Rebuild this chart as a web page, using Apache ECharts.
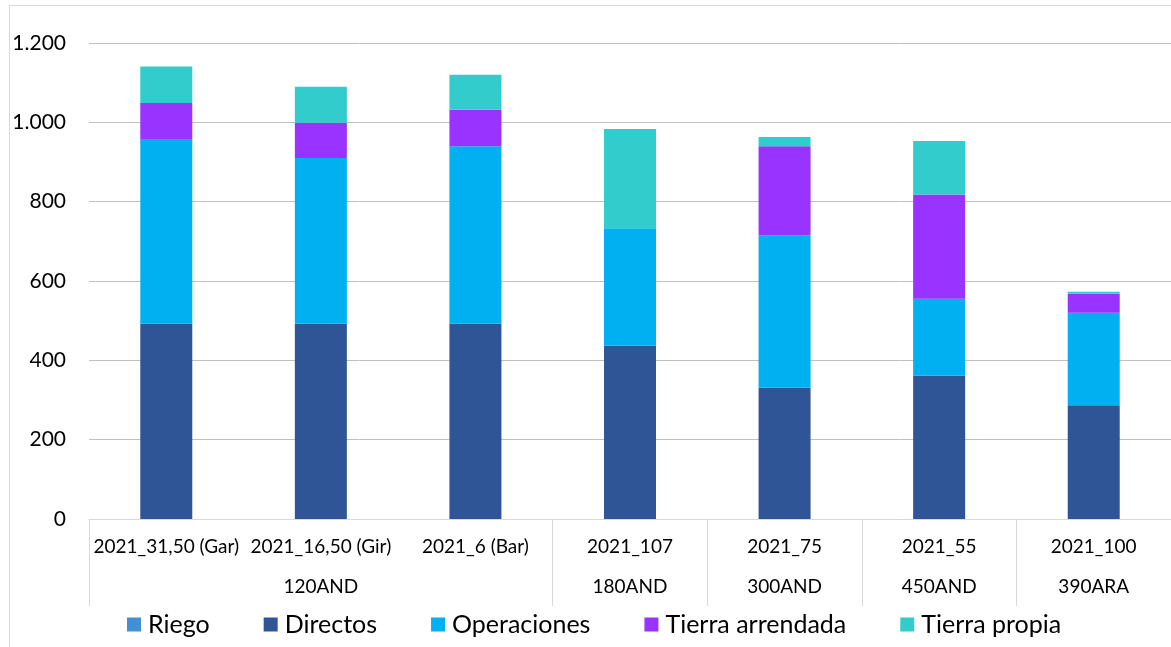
<!DOCTYPE html>
<html>
<head>
<meta charset="utf-8">
<script src="https://cdn.jsdelivr.net/npm/echarts@6/dist/echarts.min.js"></script>
<style>
  html, body { margin: 0; padding: 0; overflow: hidden; background: #fff; }
  #frame { position: absolute; left: 9px; top: 5px; width: 1200px; height: 700px; border: 1px solid #d9d9d9; }
  #chart { position: absolute; left: 0; top: 0; width: 1171px; height: 647px; }
</style>
</head>
<body>
<div id="frame"></div>
<div id="chart"></div>
<script>
// categorías (nivel 1) y grupos (nivel 2)
const categorias = ['2021_31,50 (Gar)', '2021_16,50 (Gir)', '2021_6 (Bar)', '2021_107', '2021_75', '2021_55', '2021_100']
const grupos = ['120AND', '120AND', '120AND', '180AND', '300AND', '450AND', '390ARA']

// series apiladas
const riego = [0, 0, 0, 0, 0, 0, 0]
const directos = [492, 492, 492, 437, 331, 361, 287]
const operaciones = [464, 418, 448, 296, 384, 194, 233]
const tierraArrendada = [93, 89, 92, 0, 225, 263, 48]
const tierraPropia = [92, 91, 88, 250, 23, 135, 5]

const yTicks = [0, 200, 400, 600, 800, 1000, 1200]

const fuente = 'Lato, "Open Sans", sans-serif'

// etiqueta de grupo solo en el centro de su tramo
const grupoLabel = (value, index) => {
  let first = index
  let last = index
  while (first > 0 && grupos[first - 1] === grupos[index]) first--
  while (last < grupos.length - 1 && grupos[last + 1] === grupos[index]) last++
  return index === Math.floor((first + last) / 2) ? grupos[index] : ''
}

// separador al inicio de cada grupo
const inicioGrupo = (index) => index === 0 || grupos[index - 1] !== grupos[index]

const chart = echarts.init(document.getElementById('chart'))

const serie = (name, data, color) => ({
  name,
  type: 'bar',
  stack: 'total',
  barWidth: 52,
  data,
  itemStyle: { color },
  emphasis: { disabled: true }
})

chart.setOption({
  animation: false,
  textStyle: { fontFamily: fuente },
  grid: { left: 89, right: -6, top: 43, bottom: 128 },
  legend: {
    bottom: 5,
    left: 122,
    itemWidth: 14,
    itemHeight: 14,
    itemGap: 54,
    icon: 'rect',
    textStyle: { fontSize: 25, color: '#000', fontFamily: fuente, padding: [0, 0, 0, 2] },
    data: ['Riego', 'Directos', 'Operaciones', 'Tierra arrendada', 'Tierra propia']
  },
  xAxis: [
    {
      type: 'category',
      data: categorias,
      axisLine: { lineStyle: { color: '#d9d9d9' } },
      axisTick: { show: false },
      axisLabel: { color: '#000', fontSize: 19, margin: 18, interval: 0 }
    },
    {
      type: 'category',
      data: categorias,
      position: 'bottom',
      axisLine: { show: false },
      axisTick: {
        show: true,
        length: 87,
        interval: inicioGrupo,
        lineStyle: { color: '#d9d9d9' }
      },
      axisLabel: {
        color: '#000',
        fontSize: 19,
        margin: 58,
        interval: 0,
        formatter: grupoLabel
      }
    }
  ],
  yAxis: {
    type: 'value',
    min: yTicks[0],
    max: yTicks[yTicks.length - 1],
    interval: 200,
    axisLine: { show: false },
    axisTick: { show: false },
    splitLine: { lineStyle: { color: '#bfbfbf' } },
    axisLabel: {
      color: '#000',
      fontSize: 21,
      margin: 23,
      formatter: (v) => v.toLocaleString('de-DE')
    }
  },
  series: [
    serie('Riego', riego, '#4190d6'),
    serie('Directos', directos, '#2f5597'),
    serie('Operaciones', operaciones, '#00b0f0'),
    serie('Tierra arrendada', tierraArrendada, '#9933ff'),
    serie('Tierra propia', tierraPropia, '#33cccc')
  ]
})

window.addEventListener('resize', () => {
  chart.resize()
})
</script>
</body>
</html>
